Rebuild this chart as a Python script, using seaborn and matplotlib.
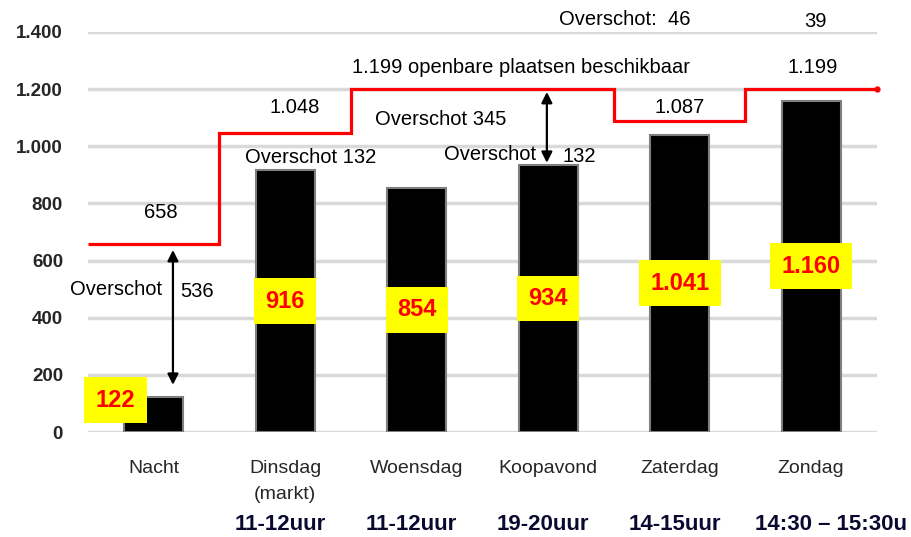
import numpy as np
import matplotlib
matplotlib.use("Agg")
import matplotlib.pyplot as plt
import seaborn as sns

# data
categories = ["Nacht", "Dinsdag\n(markt)", "Woensdag", "Koopavond", "Zaterdag", "Zondag"]
time_slots = ["", "11-12uur", "11-12uur", "19-20uur", "14-15uur", "14:30 – 15:30u"]
occupied = [122, 916, 854, 934, 1041, 1160]
capacity = [658, 1048, 1199, 1199, 1087, 1199]
surplus = [536, 132, 345, 132, 46, 39]   # as labelled in the original
y_ticks = [0, 200, 400, 600, 800, 1000, 1200, 1400]


def nl(v):
    return f"{v:,}".replace(",", ".")


sns.set_style("white")
plt.rcParams["font.family"] = ["Liberation Sans", "DejaVu Sans"]

fig = plt.figure(figsize=(9.12, 5.37), dpi=100)
ax = fig.add_axes([0.0965, 0.1955, 0.865, 0.745])

sns.barplot(x=list(range(len(categories))), y=occupied, color="black", saturation=1,
            edgecolor="#7f7f7f", linewidth=1.5, width=0.45, ax=ax)

# capacity as a stepped red line
edges = np.arange(len(capacity) + 1) - 0.5
ax.stairs(capacity, edges, color="red", linewidth=2.3, baseline=None, clip_on=False, zorder=4)
ax.plot(edges[-1], capacity[-1], "o", color="red", ms=3.5, clip_on=False, zorder=4)

ax.set_xlim(-0.5, 5.5)
ax.set_ylim(0, 1400)
ax.set_yticks(y_ticks)
ax.set_yticklabels([nl(v) for v in y_ticks], fontsize=13.5, fontweight="bold")
ax.set_xticks(range(len(categories)))
ax.set_xticklabels(categories, fontsize=14, linespacing=1.7)
ax.tick_params(axis="y", length=0, pad=18)
ax.tick_params(axis="x", length=0, pad=20)
ax.yaxis.grid(True, color="#d9d9d9", linewidth=2.5)
ax.set_axisbelow(True)
sns.despine(ax=ax, left=True, bottom=True)

# time slots under the category labels
for i, t in enumerate(time_slots):
    if not t:
        continue
    if i == len(time_slots) - 1:
        ax.text(4.57, -0.232, t, transform=ax.get_xaxis_transform(), ha="left", va="center",
                fontsize=16, fontweight="bold", color="#0a0a30")
    else:
        ax.text(i - 0.04, -0.232, t, transform=ax.get_xaxis_transform(), ha="center", va="center",
                fontsize=16, fontweight="bold", color="#0a0a30")

# yellow value boxes
box = dict(boxstyle="square,pad=0.48", fc="#ffff00", ec="none")
for i, v in enumerate(occupied):
    x, y = (i, v / 2) if i > 0 else (-0.29, 112)
    ax.text(x, y, nl(v), ha="center", va="center", color="red", fontsize=17,
            fontweight="bold", bbox=box, zorder=5)

# annotations
ann = dict(fontsize=14.5, ha="center", va="center", color="black")
ax.text(0.05, 767, nl(capacity[0]), **ann)
ax.text(1.07, 1134, nl(capacity[1]), **ann)
ax.text(2.79, 1274, f"{nl(capacity[2])} openbare plaatsen beschikbaar", **ann)
ax.text(2.18, 1092, f"Overschot {surplus[2]}", **ann)
ax.text(1.19, 962, f"Overschot {surplus[1]}", **ann)
ax.text(2.56, 970, "Overschot", **ann)
ax.text(3.24, 965, f"{surplus[3]}", **ann)
ax.text(4.0, 1134, nl(capacity[4]), **ann)
ax.text(3.58, 1442, f"Overschot:  {surplus[4]}", **ann)
ax.text(5.03, 1435, f"{surplus[5]}", **ann)
ax.text(5.01, 1277, nl(capacity[5]), **ann)
ax.text(-0.29, 497, "Overschot", **ann)
ax.text(0.33, 490, f"{surplus[0]}", **ann)

arrow = dict(arrowstyle="<|-|>", color="black", lw=1.6, mutation_scale=16, shrinkA=0, shrinkB=0)
ax.annotate("", xy=(0.146, 637), xytext=(0.146, 165), arrowprops=arrow, zorder=6)
ax.annotate("", xy=(2.99, 1190), xytext=(2.99, 942), arrowprops=arrow, zorder=6)

fig.savefig("out.png", dpi=100, facecolor="white")
